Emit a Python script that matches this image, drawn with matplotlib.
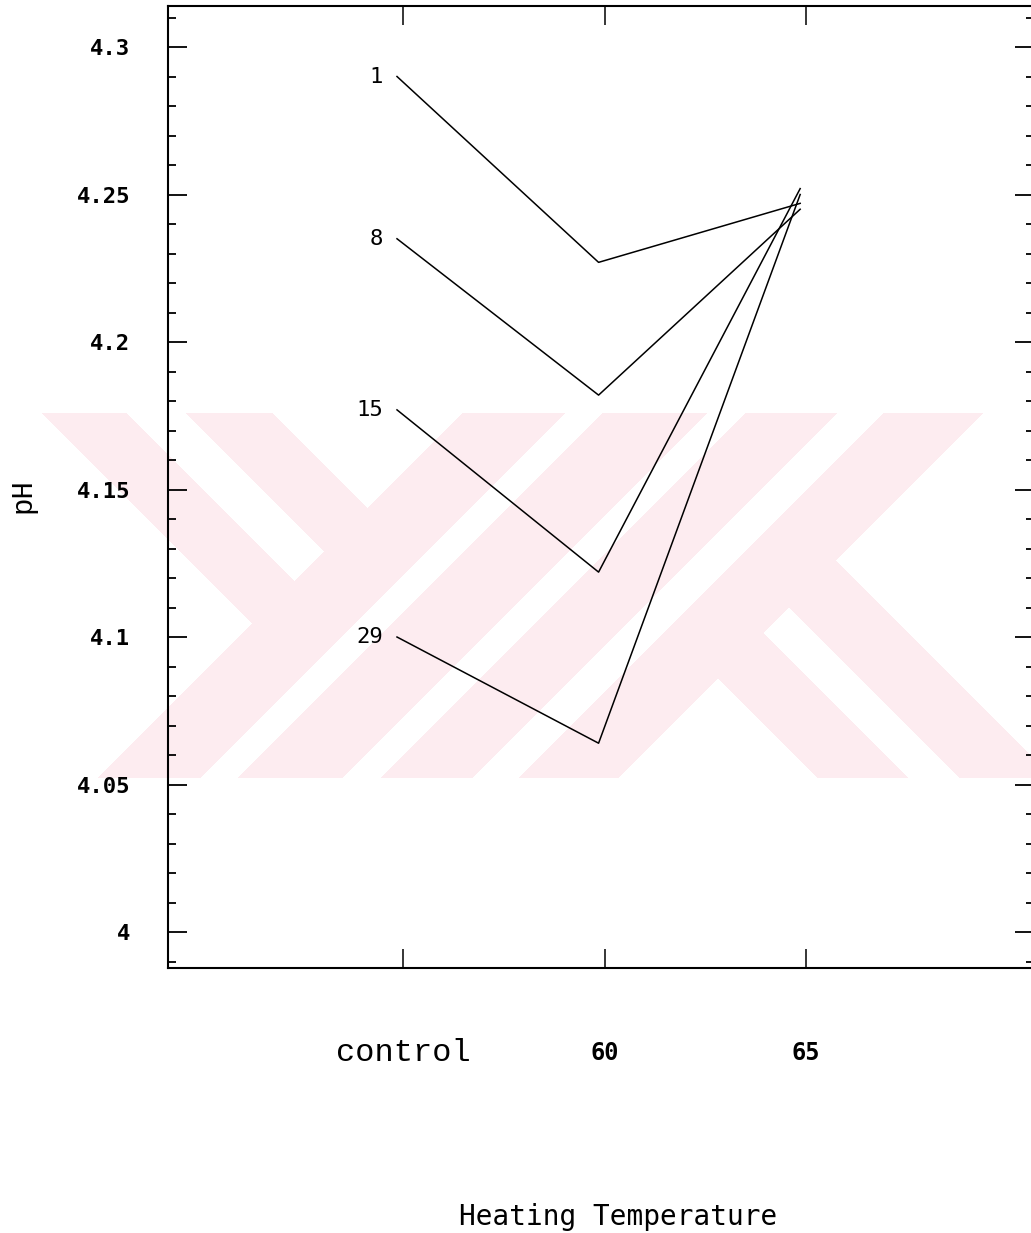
import numpy as np
import matplotlib
matplotlib.use('Agg')
import matplotlib.pyplot as plt
from matplotlib.ticker import MultipleLocator, FormatStrFormatter

# heating treatments along the x axis
temps = ['control', '60', '65']
# storage day of each curve and its pH readings per treatment
days = ['1', '8', '15', '29']
ph_day1 = [4.290, 4.227, 4.247]
ph_day8 = [4.235, 4.182, 4.245]
ph_day15 = [4.177, 4.122, 4.252]
ph_day29 = [4.100, 4.064, 4.250]
series = [ph_day1, ph_day8, ph_day15, ph_day29]

W, H = 1031, 1233
fig = plt.figure(figsize=(W / 100, H / 100), dpi=100)
fig.patch.set_facecolor('white')

# faint pink logo stamp behind the plot
yy, xx = np.mgrid[0:H, 0:W]
s = xx + yy
d = xx - yy
band = (yy >= 413) & (yy <= 777)
left = (s < 875) & (((d >= -371) & (d <= -287)) | ((d >= -227) & (d <= -141)))
right = (s > 1395) & (((d >= 40) & (d <= 130)) | ((d >= 182) & (d <= 275)))
gaps = ((s >= 978) & (s <= 1014)) | ((s >= 1120) & (s <= 1157)) | ((s >= 1250) & (s <= 1295))
mid = (s >= 875) & (s <= 1395) & ~gaps
mask = band & (left | mid | right)
stamp = np.zeros((H, W, 4))
stamp[mask] = (253 / 255, 236 / 255, 240 / 255, 1.0)
fig.figimage(stamp, 0, 0, origin='upper', zorder=-1)

ax = fig.add_axes([168 / W, 1 - 968 / H, (1034 - 168) / W, (968 - 6) / H])
ax.set_facecolor('none')

x = np.arange(len(temps))
for day, ph in zip(days, series):
    ax.plot(x - 0.03, ph, color='black', lw=1.1)
    ax.annotate(day, (x[0] - 0.03, ph[0]), xytext=(-14, 0), textcoords='offset pixels',
                ha='right', va='center', family='DejaVu Sans Mono', fontsize=16)

ax.set_xlim(-1.166, 3.13)
ax.set_ylim(3.9878, 4.3139)

ax.set_xticks(x)
ax.set_xticklabels(temps)
ax.yaxis.set_major_locator(MultipleLocator(0.05))
ax.yaxis.set_minor_locator(MultipleLocator(0.01))
ax.yaxis.set_major_formatter(FormatStrFormatter('%g'))

ax.tick_params(axis='both', which='both', direction='in', top=True, right=True,
               labeltop=False, labelright=False, color='black')
ax.tick_params(axis='x', which='major', length=14, width=1.1, pad=61)
ax.tick_params(axis='y', which='major', length=14, width=1.3, pad=27)
ax.tick_params(axis='y', which='minor', length=6, width=1.3)

for lab in ax.get_yticklabels():
    lab.set_family('DejaVu Sans Mono')
    lab.set_fontweight('bold')
    lab.set_fontsize(16)
for lab in ax.get_xticklabels():
    lab.set_va('center')
    if lab.get_text() == 'control':
        lab.set_family('Liberation Mono')
        lab.set_fontsize(23)
    else:
        lab.set_family('DejaVu Sans Mono')
        lab.set_fontweight('bold')
        lab.set_fontsize(17)

for side in ['left', 'bottom', 'top', 'right']:
    ax.spines[side].set_linewidth(1.5)

fig.text(22 / W, 1 - 495 / H, 'pH', rotation=90, ha='center', va='center',
         family='Liberation Mono', fontsize=21)
fig.text(618 / W, 1 - 1217 / H, 'Heating Temperature', ha='center', va='center',
         family='DejaVu Sans Mono', fontsize=20)

fig.savefig('out.png', dpi=100)
